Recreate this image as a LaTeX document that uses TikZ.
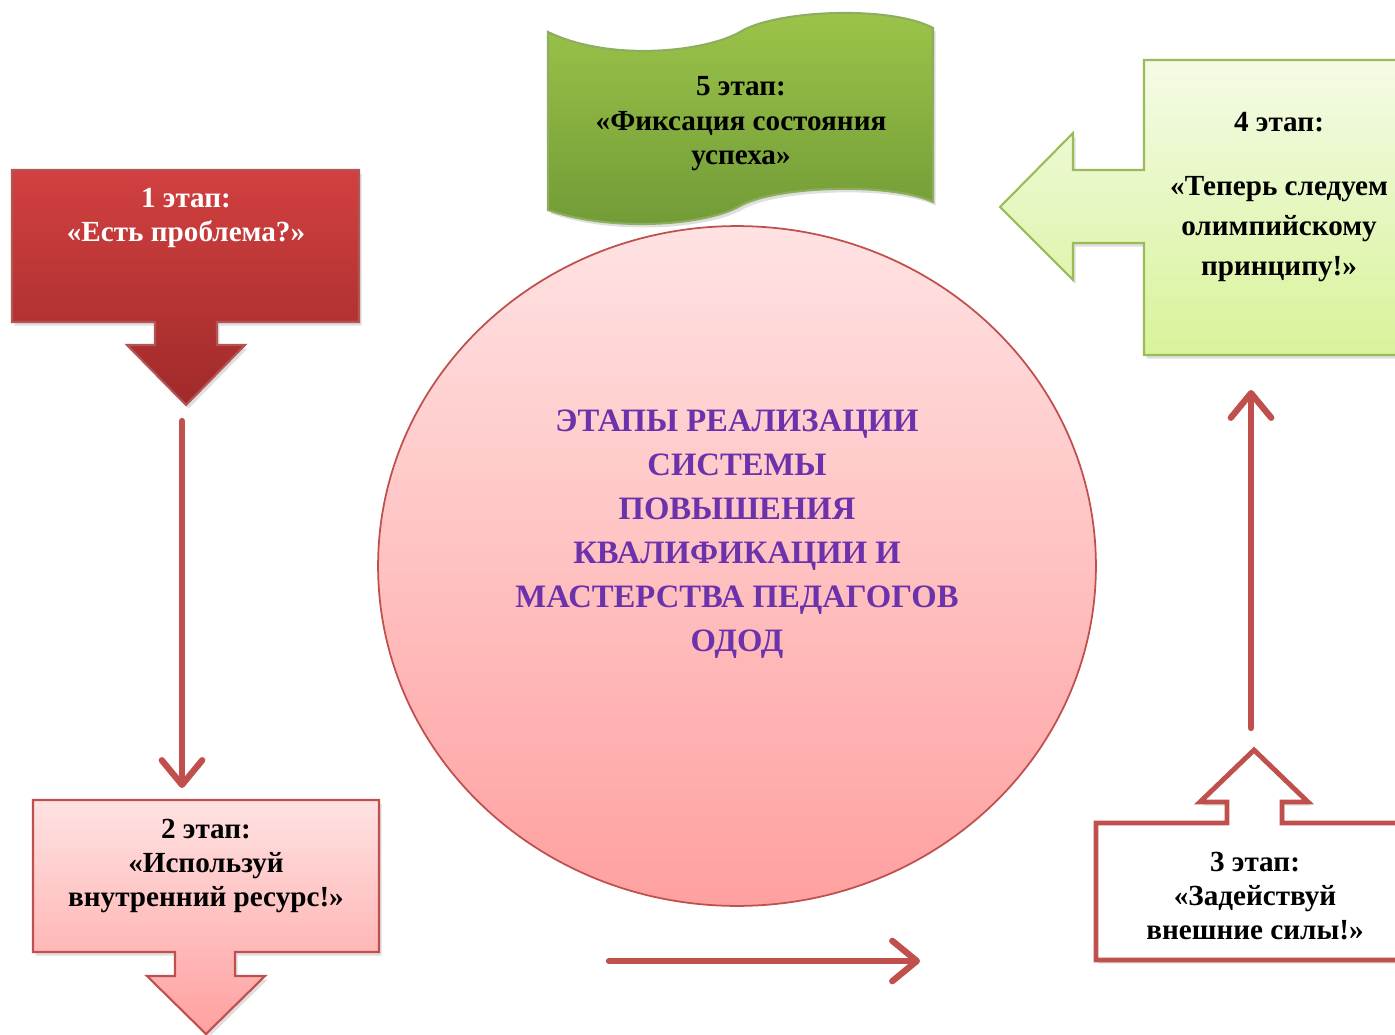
\documentclass[tikz,border=0pt]{standalone}
\usepackage{fontspec}
\setmainfont{Liberation Serif}
\usetikzlibrary{arrows.meta,shadows}

\definecolor{stagered}{RGB}{192,80,77}
\definecolor{darkred}{RGB}{160,42,42}
\definecolor{brightred}{RGB}{210,64,64}
\definecolor{pinktop}{RGB}{255,226,226}
\definecolor{pinkbot}{RGB}{255,160,160}
\definecolor{limetop}{RGB}{244,251,230}
\definecolor{limebot}{RGB}{216,243,154}
\definecolor{limeline}{RGB}{155,187,89}
\definecolor{leaftop}{RGB}{157,197,74}
\definecolor{leafbot}{RGB}{112,154,54}
\definecolor{titleviolet}{RGB}{108,50,172}

\tikzset{
  stagebox/.style={line width=1.2pt, drop shadow={opacity=0.25, shadow xshift=1.5pt, shadow yshift=-2pt}},
  stagetext/.style={font=\bfseries\fontsize{16.6}{19.6}\selectfont, align=center, inner sep=0pt},
  flowline/.style={line width=3.6pt, color=stagered, line cap=round,
    -{Straight Barb[length=14pt, width=23pt, line cap=round, line join=round]}}
}

\begin{document}
\begin{tikzpicture}[x=0.02cm, y=-0.02cm]
			%%%%% START %%%%%
			\useasboundingbox (0, 0) rectangle (1395, 1034);
			\clip (0, 0) rectangle (1395, 1034);
			
			% central ellipse
			\shade[top color=pinktop, bottom color=pinkbot, draw=stagered, line width=1pt] (737, 566) ellipse [x radius=7.18cm, y radius=6.8cm];
			\node[font=\bfseries\fontsize{18.6}{25}\selectfont, text=titleviolet, align=center] (title) at (737, 534)
			{ЭТАПЫ РЕАЛИЗАЦИИ\\СИСТЕМЫ\\ПОВЫШЕНИЯ\\КВАЛИФИКАЦИИ И\\МАСТЕРСТВА ПЕДАГОГОВ\\ОДОД};
			
			% stage 1
			\shade[stagebox, top color=brightred, bottom color=darkred, draw=darkred!80]
			(12, 170) -- (359, 170) -- (359, 322) -- (217, 322) -- (217, 345) -- (245, 345) -- (186, 405)
			-- (127, 345) -- (155, 345) -- (155, 322) -- (12, 322) -- cycle;
			\node[stagetext, text=white] (t1) at (186, 218) {1 этап:\\«Есть проблема?»};
			
			% stage 2
			\shade[stagebox, top color=pinktop, bottom color=pinkbot, draw=stagered]
			(33, 800) -- (379, 800) -- (379, 952) -- (235, 952) -- (235, 976) -- (265, 976) -- (206, 1034)
			-- (147, 976) -- (175, 976) -- (175, 952) -- (33, 952) -- cycle;
			\node[stagetext] (t2) at (206, 866) {2 этап:\\«Используй\\внутренний ресурс!»};
			
			% stage 3
			\draw[stagebox, fill=white, draw=stagered, line width=2.8pt]
			(1096, 823) -- (1227, 823) -- (1227, 802) -- (1200, 802) -- (1254, 750) -- (1308, 802)
			-- (1282, 802) -- (1282, 823) -- (1405, 823) -- (1405, 960) -- (1096, 960) -- cycle;
			\node[stagetext] (t3) at (1255, 896) {3 этап:\\«Задействуй\\внешние силы!»};
			
			% stage 4
			\shade[stagebox, top color=limetop, bottom color=limebot, draw=limeline]
			(1144, 60) -- (1405, 60) -- (1405, 355) -- (1144, 355) -- (1144, 243) -- (1073, 243) -- (1073, 280)
			-- (1000, 207) -- (1073, 133) -- (1073, 170) -- (1144, 170) -- cycle;
			\node[stagetext, font=\bfseries\fontsize{16.6}{22.7}\selectfont] (t4) at (1279, 197)
			{4 этап:\\[14pt]«Теперь следуем\\олимпийскому\\принципу!»};
			
			% stage 5
			\shade[stagebox, top color=leaftop, bottom color=leafbot, draw=leafbot!80]
			(548, 32) .. controls (610, 62) and (705, 52) .. (740, 32) .. controls (775, 10) and (890, 5) .. (933, 28)
			-- (933, 202) .. controls (890, 182) and (775, 186) .. (740, 206) .. controls (705, 226) and (610, 232) .. (548, 210) -- cycle;
			\node[stagetext] (t5) at (741, 124) {5 этап:\\«Фиксация состояния\\успеха»};
			
			% connectors
			\coordinate (d1) at (182, 421);
			\coordinate (d2) at (182, 788);
			\coordinate (r1) at (609, 961);
			\coordinate (r2) at (920, 961);
			\coordinate (u1) at (1251, 728);
			\coordinate (u2) at (1251, 390);
			\draw[flowline] (d1) -- (d2);
			\draw[flowline] (r1) -- (r2);
			\draw[flowline] (u1) -- (u2);
			%%%%% END %%%%%
\end{tikzpicture}
\end{document}
